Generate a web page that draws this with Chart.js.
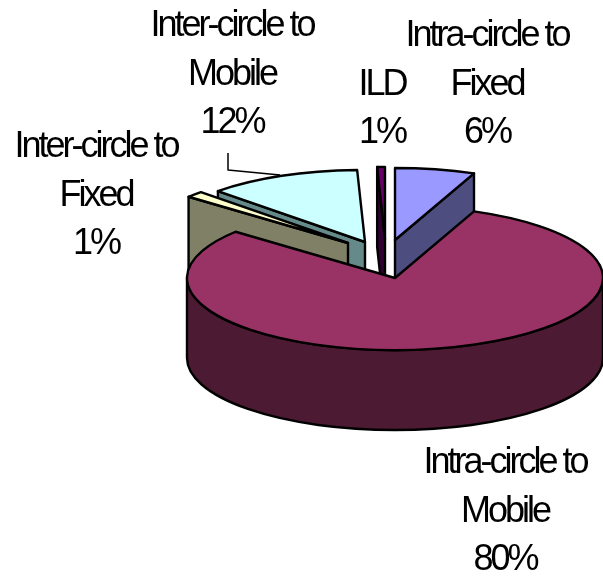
<!DOCTYPE html>
<html>
<head>
<meta charset="utf-8">
<style>
  html, body { margin: 0; background: #fff; }
  canvas { display: block; }
</style>
<script src="https://cdn.jsdelivr.net/npm/chart.js@4"></script>
</head>
<body>
<canvas id="myChart" width="603" height="578"></canvas>
<script>
// values, labels show them rounded
const categorias = ['Intra-circle to Fixed', 'Intra-circle to Mobile', 'Inter-circle to Fixed', 'Inter-circle to Mobile', 'ILD'];
const valores = [6.2, 79.9, 1.4, 11.9, 0.6];
const lineasEtiqueta = [
    ['Intra-circle to', 'Fixed'],
    ['Intra-circle to', 'Mobile'],
    ['Inter-circle to', 'Fixed'],
    ['Inter-circle to', 'Mobile'],
    ['ILD']
];

const colores = ['#9999ff', '#993366', '#ffffcc', '#ccffff', '#660066'];
const coloresLado = ['#4d4d80', '#4d1a33', '#808066', '#668a8a', '#330033'];

// 3D look: where each slice's tip ends up, back to front order
const puntas = [[395, 240], [395, 278], [348, 243], [365, 242], [385, 239]];
const ordenDibujo = [0, 4, 3, 2, 1];
const achatado = 72 / 208;
const profundidad = 80;

// centre x and last baseline of every label, lines are 48.5px apart
const posEtiquetas = [[487, 143], [505, 570], [96, 254], [232, 133], [382, 143]];

const pastel3d = {
    id: 'pastel3d',
    beforeDatasetDraw(chart, args) {
        const ctx = chart.ctx;
        const arcos = args.meta.data;
        ctx.save();
        ctx.lineWidth = 2.4;
        ctx.lineJoin = 'round';
        ctx.strokeStyle = '#000';

        ordenDibujo.forEach(i => {
            const arco = arcos[i];
            const r = arco.outerRadius;
            const a0 = arco.startAngle;
            const a1 = arco.endAngle;
            const [x, y] = puntas[i];

            ctx.fillStyle = coloresLado[i];
            if (Math.cos(a0) < -1e-6) caraCorte(ctx, x, y, r, a0);
            if (Math.cos(a1) > 1e-6) caraCorte(ctx, x, y, r, a1);

            // outer rim, only the part that faces the viewer
            const desde = Math.max(a0, 0);
            const hasta = Math.min(a1, Math.PI);
            if (hasta > desde) {
                ctx.beginPath();
                ctx.ellipse(x, y, r, r * achatado, 0, desde, hasta);
                ctx.ellipse(x, y + profundidad, r, r * achatado, 0, hasta, desde, true);
                ctx.closePath();
                ctx.fill();
                ctx.stroke();
            }

            ctx.fillStyle = arco.options.backgroundColor;
            ctx.beginPath();
            ctx.moveTo(x, y);
            ctx.ellipse(x, y, r, r * achatado, 0, a0, a1);
            ctx.closePath();
            ctx.fill();
            ctx.stroke();
        });

        // leader line of Inter-circle to Mobile
        ctx.lineWidth = 1.5;
        ctx.beginPath();
        ctx.moveTo(228, 153);
        ctx.lineTo(228, 170);
        ctx.lineTo(280, 175);
        ctx.stroke();

        dibujarEtiquetas(ctx);
        ctx.restore();
        return false;
    }
};

function caraCorte(ctx, x, y, r, a) {
    const bx = x + r * Math.cos(a);
    const by = y + r * achatado * Math.sin(a);
    ctx.beginPath();
    ctx.moveTo(x, y);
    ctx.lineTo(bx, by);
    ctx.lineTo(bx, by + profundidad);
    ctx.lineTo(x, y + profundidad);
    ctx.closePath();
    ctx.fill();
    ctx.stroke();
}

function dibujarEtiquetas(ctx) {
    ctx.fillStyle = '#000';
    ctx.font = '36px "Liberation Sans"';
    ctx.letterSpacing = '-3px';
    ctx.textAlign = 'center';
    ctx.textBaseline = 'alphabetic';
    valores.forEach((v, i) => {
        const lineas = lineasEtiqueta[i].concat(Math.round(v) + '%');
        const [cx, ultima] = posEtiquetas[i];
        lineas.forEach((t, j) => {
            ctx.fillText(t, cx, ultima - (lineas.length - 1 - j) * 48.5);
        });
    });
}

new Chart(document.getElementById('myChart').getContext('2d'), {
    type: 'pie',
    data: {
        labels: categorias,
        datasets: [{
            data: valores,
            backgroundColor: colores
        }]
    },
    options: {
        responsive: false,
        animation: false,
        radius: 208,
        plugins: {
            legend: { display: false },
            tooltip: { enabled: false }
        }
    },
    plugins: [pastel3d]
});
</script>
</body>
</html>
